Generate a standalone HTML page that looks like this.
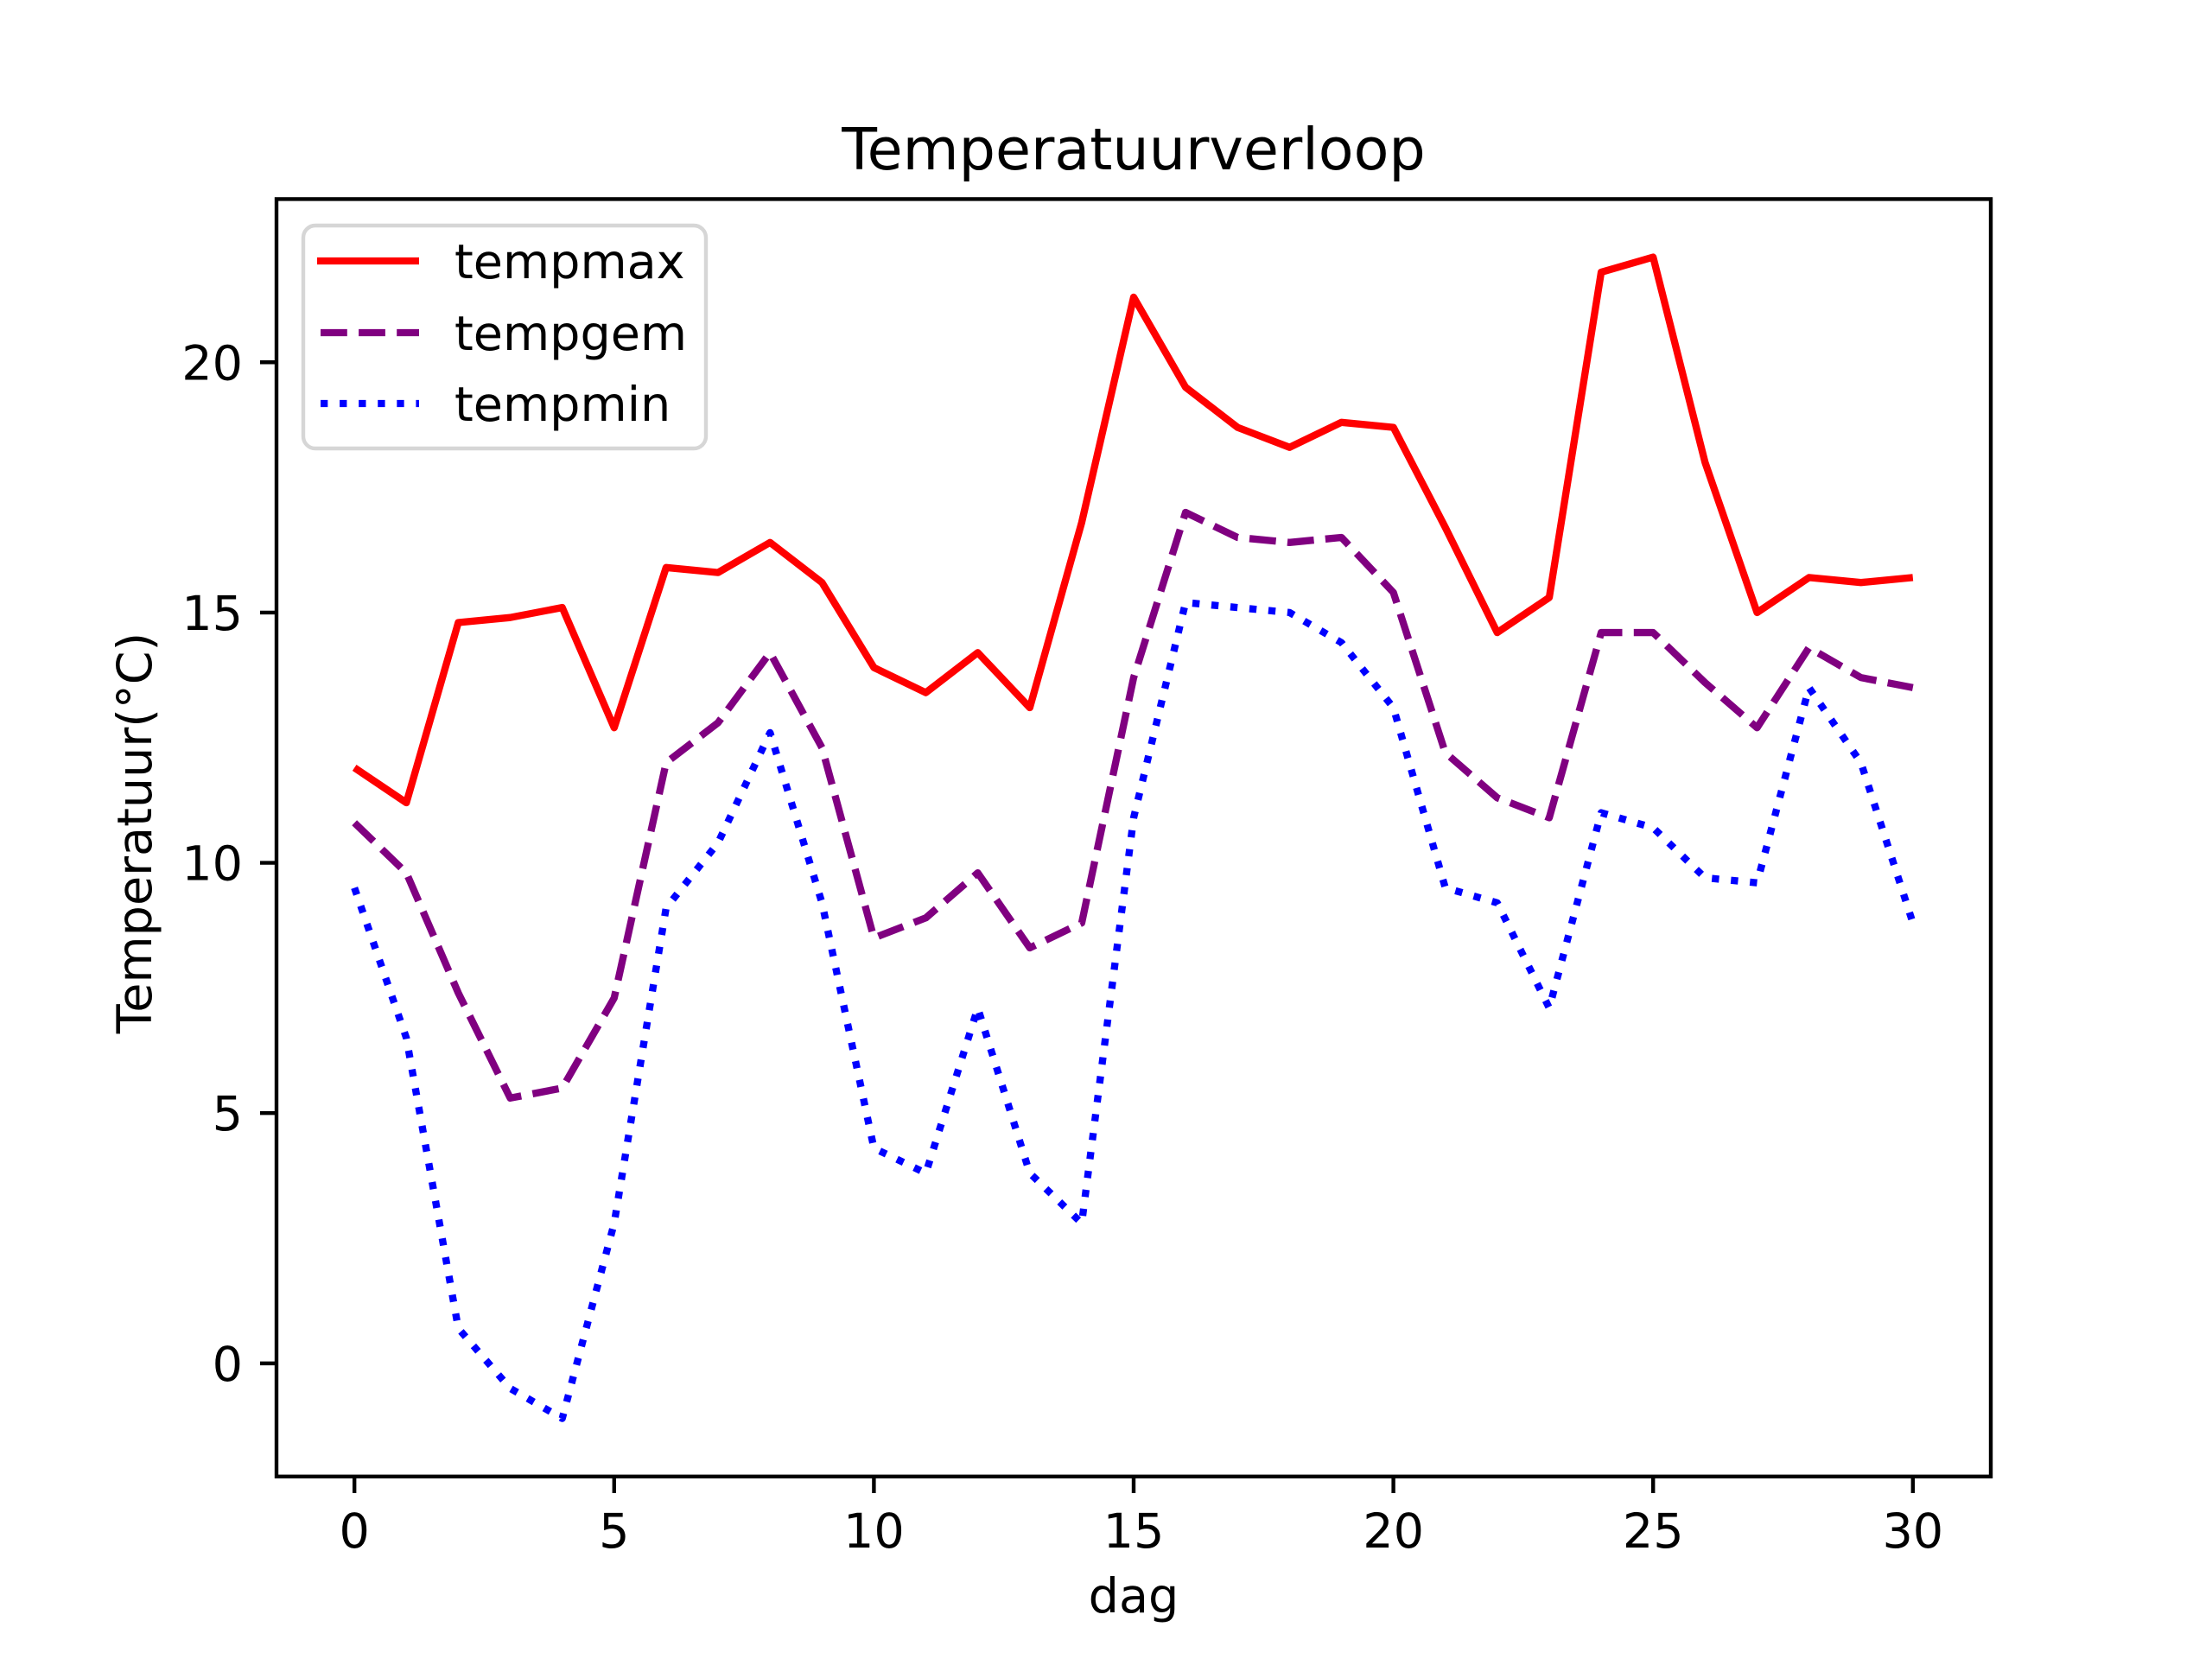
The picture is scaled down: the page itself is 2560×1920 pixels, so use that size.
<!DOCTYPE html>
<html><head><style>html,body{margin:0;padding:0;background:#fff}svg{display:block}</style></head>
<body>
<svg id="s" width="2560" height="1920" viewBox="0 0 2560 1920" xmlns="http://www.w3.org/2000/svg" font-family="'DejaVu Sans','Liberation Sans',sans-serif">
<rect width="2560" height="1920" fill="#fff"/>
<g id="plot"></g>
<text x="1312" y="196" font-size="66.7" text-anchor="middle">Temperatuurverloop</text>
<text x="1312" y="1866" font-size="55.6" text-anchor="middle">dag</text>
<text transform="translate(175,964) rotate(-90)" font-size="55.6" text-anchor="middle">Temperatuur(°C)</text>
<g id="ticks" font-size="55.6"></g>
<rect x="320" y="230.4" width="1984" height="1478.4" fill="none" stroke="#000" stroke-width="4.4"/>
<rect x="351" y="261" width="466" height="258" rx="14" fill="#fff" fill-opacity="0.8" stroke="#d6d6d6" stroke-width="4.4"/>
<line x1="367" y1="302" x2="485" y2="302" stroke="#ff0000" stroke-width="8.33"/>
<line x1="371" y1="385" x2="485" y2="385" stroke="#800080" stroke-width="8.33" stroke-dasharray="30.8,13.3"/>
<line x1="371" y1="467" x2="485" y2="467" stroke="#0000ff" stroke-width="8.33" stroke-dasharray="8.33,13.75"/>
<text x="526" y="322" font-size="55.6">tempmax</text>
<text x="526" y="405" font-size="55.6">tempgem</text>
<text x="526" y="487" font-size="55.6">tempmin</text>
</svg>
<script>
var X=function(v){return 320+(v+1.5)/33*1984;};
var Y=function(v){return 1708.8-(v+2.26)/25.52*1478.4;};
var mx=[11.9,11.2,14.8,14.9,15.1,12.7,15.9,15.8,16.4,15.6,13.9,13.4,14.2,13.1,16.8,21.3,19.5,18.7,18.3,18.8,18.7,16.7,14.6,15.3,21.8,22.1,18.0,15.0,15.7,15.6,15.7];
var gm=[10.8,9.8,7.4,5.3,5.5,7.3,12.0,12.8,14.2,12.3,8.5,8.9,9.8,8.3,8.8,13.7,17.0,16.5,16.4,16.5,15.4,12.2,11.3,10.9,14.6,14.6,13.6,12.7,14.3,13.7,13.5];
var mn=[9.5,6.5,0.7,-0.5,-1.1,2.8,9.1,10.4,12.6,9.2,4.3,3.8,7.1,3.8,2.8,10.9,15.2,15.1,15.0,14.4,13.1,9.5,9.2,7.1,11.0,10.7,9.7,9.6,13.5,12.0,8.8];
var ns="http://www.w3.org/2000/svg";
function pl(d,c,da){var p=document.createElementNS(ns,"polyline");p.setAttribute("points",d.map(function(v,i){return X(i).toFixed(1)+","+Y(v).toFixed(1)}).join(" "));p.setAttribute("fill","none");p.setAttribute("stroke",c);p.setAttribute("stroke-width","8.33");p.setAttribute("stroke-linejoin","round");if(da)p.setAttribute("stroke-dasharray",da);document.getElementById("plot").appendChild(p);}
pl(mx,"#ff0000");pl(gm,"#800080","30.8,13.3");pl(mn,"#0000ff","8.33,13.75");
var t=document.getElementById("ticks"),h="";
for(var v=0;v<=30;v+=5){var x=X(v);h+='<line x1="'+x+'" y1="1708.8" x2="'+x+'" y2="1728" stroke="#000" stroke-width="4.4"/><text x="'+x+'" y="1791" text-anchor="middle">'+v+'</text>';}
for(var v=0;v<=20;v+=5){var y=Y(v);h+='<line x1="301" y1="'+y+'" x2="320" y2="'+y+'" stroke="#000" stroke-width="4.4"/><text x="281" y="'+(y+20)+'" text-anchor="end">'+v+'</text>';}
t.innerHTML=h;
</script>
</body></html>
